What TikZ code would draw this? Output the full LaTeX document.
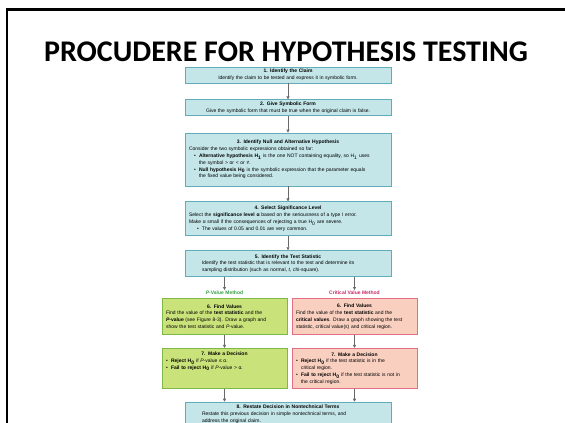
\documentclass[tikz,border=0pt]{standalone}
\usepackage{fontspec}
\setmainfont{Liberation Sans}
\newfontfamily\slidefont{Carlito}
\usetikzlibrary{positioning,arrows.meta}
\definecolor{StepTeal}{RGB}{196,230,233}
\definecolor{StepTealLine}{RGB}{96,172,186}
\definecolor{PvGreen}{RGB}{202,226,122}
\definecolor{PvGreenLine}{RGB}{128,184,72}
\definecolor{CvSalmon}{RGB}{249,208,192}
\definecolor{CvSalmonLine}{RGB}{226,112,132}
\definecolor{PvLabel}{RGB}{52,160,70}
\definecolor{CvLabel}{RGB}{196,40,100}
\definecolor{ArrowGray}{RGB}{105,105,105}
\newcommand{\boxhead}[1]{{\centering\bfseries #1\par}}
\newcommand{\boxitem}[2][0pt]{{\leftskip=#1\hangindent=5pt\hangafter=1\noindent\hbox to 5pt{\textbullet\hfil}#2\par}}
\newcommand{\Hsub}[1]{H\textsubscript{#1}}
\tikzset{
  flow/.style={-{Triangle[length=3pt,width=3pt]},line width=0.7pt,draw=ArrowGray},
  stepfont/.style={font=\fontsize{5}{6.8}\selectfont},
  tealbox/.style={draw=StepTealLine,fill=StepTeal,line width=0.8pt,stepfont,
    minimum width=206pt,text width=198pt,inner xsep=4pt,inner ysep=2pt,align=left},
  greenbox/.style={draw=PvGreenLine,fill=PvGreen,line width=0.8pt,stepfont,
    text width=117pt,inner xsep=4pt,inner ysep=2pt,align=left},
  redbox/.style={draw=CvSalmonLine,fill=CvSalmon,line width=0.8pt,stepfont,
    text width=117pt,inner xsep=4pt,inner ysep=2pt,align=left},
  methodlab/.style={font=\fontsize{5}{6}\selectfont\bfseries,inner sep=1pt}
}

\begin{document}
\begin{tikzpicture}[x=1pt,y=-1pt]
  \useasboundingbox (0,0) rectangle (565,423);
  \draw[line width=2.5pt] (7,423) -- (7,9.5) -- (565,9.5);
  \node[font=\fontsize{30}{30}\selectfont\slidefont\bfseries] (title) at (286,52) {PROCUDERE FOR HYPOTHESIS TESTING};

  \node[tealbox,align=center,minimum height=16pt] (box1) at (288,75) {
    \boxhead{1. Identify the Claim}
    Identify the claim to be tested and express it in symbolic form.
  };
  \node[tealbox,align=center,minimum height=15pt,below=16pt of box1] (box2) {
    \boxhead{2. Give Symbolic Form}
    Give the symbolic form that must be true when the original claim is false.
  };
  \node[tealbox,minimum height=53pt,below=17pt of box2] (box3) {
    \boxhead{3. Identify Null and Alternative Hypothesis}
    Consider the two symbolic expressions obtained so far:\par
    \boxitem[5pt]{\textbf{Alternative hypothesis \Hsub{1}} is the one NOT containing equality, so \Hsub{1} uses\newline the symbol > or < or ≠.}
    \boxitem[5pt]{\textbf{Null hypothesis \Hsub{0}} is the symbolic expression that the parameter equals\newline the fixed value being considered.}
  };
  \node[tealbox,minimum height=34pt,below=15pt of box3] (box4) {
    \boxhead{4. Select Significance Level}
    Select the \textbf{significance level α} based on the seriousness of a type I error.\newline
    Make α small if the consequences of rejecting a true \Hsub{0} are severe.\par
    \boxitem[8pt]{The values of 0.05 and 0.01 are very common.}
  };
  \node[tealbox,text width=172pt,minimum height=26pt,below=14pt of box4] (box5) {
    \boxhead{5. Identify the Test Statistic}
    Identify the test statistic that is relevant to the test and determine its\newline
    sampling distribution (such as normal, \textit{t}, chi-square).
  };

  % two methods
  \node[methodlab,text=PvLabel,below=13pt of box5.south,xshift=-63.5pt] (pvlab) {\textit{P}-Value Method};
  \node[methodlab,text=CvLabel,below=13pt of box5.south,xshift=66.5pt] (cvlab) {Critical Value Method};
  \node[greenbox,minimum height=36pt,below=2pt of pvlab] (green6) {
    \boxhead{6. Find Values}
    Find the value of the \textbf{test statistic} and the\newline
    \textbf{\textit{P}-value} (see Figure 8-3). Draw a graph and\newline
    show the test statistic and \textit{P}-value.
  };
  \node[redbox,minimum height=36pt,below=2pt of cvlab] (red6) {
    \boxhead{6. Find Values}
    Find the value of the \textbf{test statistic} and the\newline
    \textbf{critical values}. Draw a graph showing the test\newline
    statistic, critical value(s) and critical region.
  };
  \node[greenbox,minimum height=40pt,below=13pt of green6] (green7) {
    \boxhead{7. Make a Decision}
    \boxitem{\textbf{Reject \Hsub{0}} if \textit{P}-value ≤ α.}
    \boxitem{\textbf{Fail to reject \Hsub{0}} if \textit{P}-value > α.}
    \strut\par\strut
  };
  \node[redbox,minimum height=40pt,below=13pt of red6] (red7) {
    \boxhead{7. Make a Decision}
    \boxitem{\textbf{Reject \Hsub{0}} if the test statistic is in the\newline critical region.}
    \boxitem{\textbf{Fail to reject \Hsub{0}} if the test statistic is not in\newline the critical region.}
  };
  \coordinate (mid7) at (box5 |- green7.south);
  \node[tealbox,text width=172pt,minimum height=24pt,below=13pt of mid7] (box8) {
    \boxhead{8. Restate Decision in Nontechnical Terms}
    Restate this previous decision in simple nontechnical terms, and\newline
    address the original claim.
  };

  \draw[flow] (box1) -- (box2);
  \draw[flow] (box2) -- (box3);
  \draw[flow] (box3) -- (box4);
  \draw[flow] (box4) -- (box5);
  \draw[flow] (box5.south -| pvlab) -- (pvlab);
  \draw[flow] (box5.south -| cvlab) -- (cvlab);
  \draw[flow] (green6) -- (green7);
  \draw[flow] (red6) -- (red7);
  \draw[flow] (green7.south) -- (green7.south |- box8.north);
  \draw[flow] (red7.south) -- (red7.south |- box8.north);
\end{tikzpicture}
\end{document}
